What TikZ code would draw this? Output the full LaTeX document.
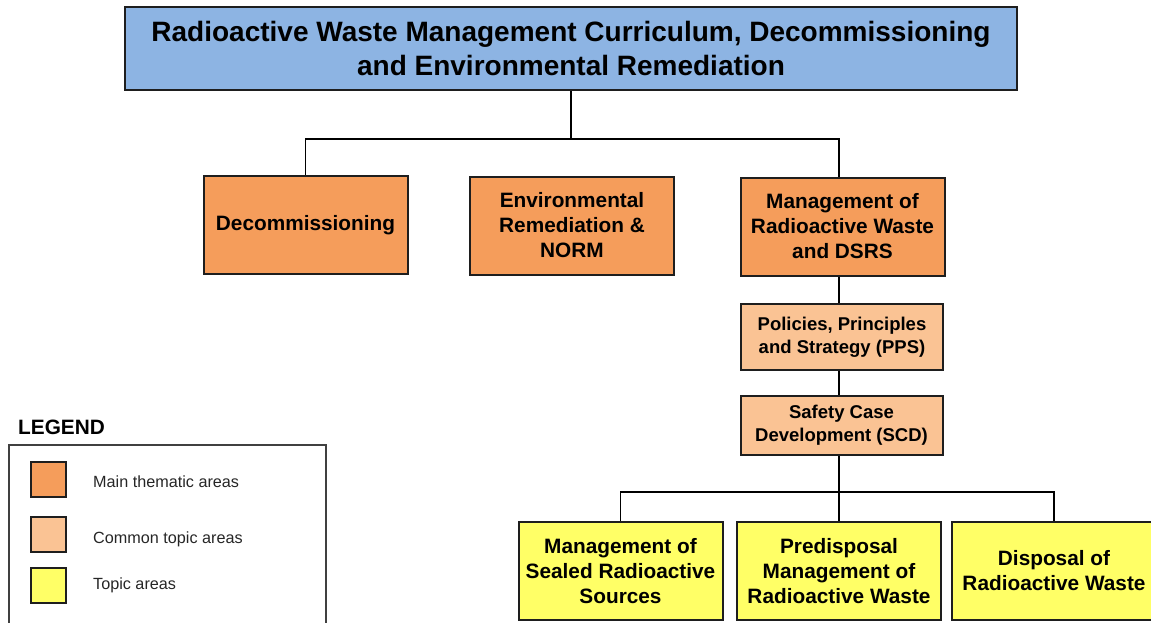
\documentclass[tikz,border=0pt]{standalone}
\usepackage{fontspec}
\setmainfont{Liberation Sans}
\usetikzlibrary{positioning}
\definecolor{titleblue}{HTML}{8DB4E3}
\definecolor{mainorange}{HTML}{F59D5B}
\definecolor{commonorange}{HTML}{FAC394}
\definecolor{topicyellow}{HTML}{FFFF66}
\definecolor{edgegray}{HTML}{1E1E1E}
\tikzset{
  box/.style={draw=edgegray, line width=2pt, align=center, inner sep=2pt,
    font=\bfseries\fontsize{20.8}{25}\selectfont},
  mainbox/.style={box, fill=mainorange, minimum width=204pt, minimum height=98pt},
  commonbox/.style={box, fill=commonorange, minimum width=202pt,
    font=\bfseries\fontsize{18.5}{23}\selectfont},
  topicbox/.style={box, fill=topicyellow, minimum width=204pt, minimum height=98pt},
  swatch/.style={draw=edgegray, line width=1.4pt, minimum size=35pt, inner sep=0pt},
  legendtext/.style={anchor=west, inner sep=0pt, text=black!85, font=\fontsize{16.2}{19}\selectfont},
  link/.style={draw=black, line width=1.8pt}
}
\begin{document}
\begin{tikzpicture}[x=1pt,y=-1pt]
\useasboundingbox (0,0) rectangle (1151,622);
\clip (0,0) rectangle (1151,622);
% header
\node[box, fill=titleblue, minimum width=892pt, minimum height=83pt,
  font=\bfseries\fontsize{28}{34}\selectfont] (title) at (571,48.5)
  {Radioactive Waste Management Curriculum, Decommissioning\\and Environmental Remediation};
% main thematic areas
\node[mainbox] (decom) at (305.5,225) {Decommissioning};
\node[mainbox] (envrem) at (572,225.5) {Environmental\\Remediation \&\\NORM};
\node[mainbox] (mgmt) at (842.5,226.5) {Management of\\Radioactive Waste\\and DSRS};
% common topic areas
\node[commonbox, minimum height=66pt] (pps) at (842,337) {Policies, Principles\\and Strategy (PPS)};
\node[commonbox, minimum height=59pt] (scd) at (841.5,425.5) {Safety Case\\Development (SCD)};
% topic areas
\node[topicbox] (sealed) at (620.5,571) {Management of\\Sealed Radioactive\\Sources};
\node[topicbox] (predisp) at (839,571) {Predisposal\\Management of\\Radioactive Waste};
\node[topicbox] (disposal) at (1054,571) {Disposal of\\Radioactive Waste};
% connectors
\coordinate (topbus) at (571,139);
\coordinate (lowbus) at (839,492);
\draw[link] (title.south) -- (topbus);
\draw[link] (topbus) -| (decom.north);
\draw[link] (topbus) -| ([xshift=-3.5pt]mgmt.north);
\draw[link] ([xshift=-3.5pt]mgmt.south) -- ([xshift=-3pt]pps.north);
\draw[link] ([xshift=-3pt]pps.south) -- ([xshift=-2.5pt]scd.north);
\draw[link] ([xshift=-2.5pt]scd.south) -- (predisp.north);
\draw[link] (lowbus) -| (sealed.north);
\draw[link] (lowbus) -| (disposal.north);
% legend
\node[anchor=west, inner sep=0pt, font=\bfseries\fontsize{20.8}{25}\selectfont] (legendtitle) at (18,427) {LEGEND};
\draw[draw=black!75, line width=1.2pt] (9,445) rectangle (326,640);
\node[swatch, fill=mainorange] (sw1) at (48.5,479.5) {};
\node[swatch, fill=commonorange] (sw2) at (48.5,534.5) {};
\node[swatch, fill=topicyellow] (sw3) at (48.5,585.5) {};
\node[legendtext] (lab1) at (93,482) {Main thematic areas};
\node[legendtext] (lab2) at (93,539) {Common topic areas};
\node[legendtext] (lab3) at (93,585) {Topic areas};
\end{tikzpicture}
\end{document}
